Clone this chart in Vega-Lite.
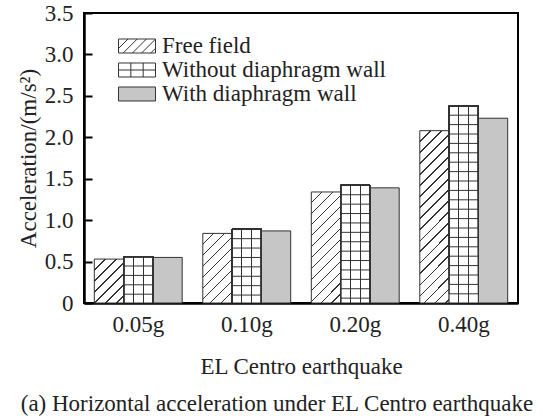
{
  "$schema": "https://vega.github.io/schema/vega-lite/v6.json",
  "width": 434,
  "height": 290,
  "autosize": {"type": "none"},
  "padding": {"left": 84, "top": 13, "right": 25, "bottom": 113},
  "background": "white",
  "config": {
    "font": "Liberation Serif",
    "view": {"stroke": "black", "strokeWidth": 2},
    "axis": {"labelFont": "Liberation Serif", "titleFont": "Liberation Serif"},
    "legend": {"labelFont": "Liberation Serif", "titleFont": "Liberation Serif"},
    "title": {"font": "Liberation Serif"}
  },
  "title": {"text": "(a) Horizontal acceleration under EL Centro earthquake", "orient": "bottom", "anchor": "middle", "font": "Liberation Serif", "fontSize": 23, "fontWeight": "normal", "color": "#222", "offset": 15, "dx": -24},
  "data": {"values": [
    {"g": "0.05g", "series": "Free field", "value": 0.53},
    {"g": "0.05g", "series": "Without diaphragm wall", "value": 0.56},
    {"g": "0.05g", "series": "With diaphragm wall", "value": 0.55},
    {"g": "0.10g", "series": "Free field", "value": 0.84},
    {"g": "0.10g", "series": "Without diaphragm wall", "value": 0.89},
    {"g": "0.10g", "series": "With diaphragm wall", "value": 0.87},
    {"g": "0.20g", "series": "Free field", "value": 1.34},
    {"g": "0.20g", "series": "Without diaphragm wall", "value": 1.42},
    {"g": "0.20g", "series": "With diaphragm wall", "value": 1.39},
    {"g": "0.40g", "series": "Free field", "value": 2.08},
    {"g": "0.40g", "series": "Without diaphragm wall", "value": 2.38},
    {"g": "0.40g", "series": "With diaphragm wall", "value": 2.23}
  ]},
  "encoding": {
    "x": {"field": "g", "type": "nominal", "sort": ["0.05g", "0.10g", "0.20g", "0.40g"],
      "scale": {"paddingInner": 0.19, "paddingOuter": 0.095},
      "axis": {"title": "EL Centro earthquake", "ticks": false, "labelAngle": 0, "labelPadding": 10, "titlePadding": 19,
        "domainColor": "black", "domainWidth": 2.5,
        "labelFont": "Liberation Serif", "labelFontSize": 23, "labelColor": "#222",
        "titleFont": "Liberation Serif", "titleFontSize": 23, "titleFontWeight": "normal", "titleColor": "#222"}},
    "xOffset": {"field": "series", "type": "nominal",
      "scale": {"domain": ["Free field", "Without diaphragm wall", "With diaphragm wall"], "paddingInner": 0, "paddingOuter": 0}},
    "y": {"field": "value", "type": "quantitative",
      "scale": {"domain": [0, 3.5], "nice": false},
      "axis": {"values": [0, 0.5, 1, 1.5, 2, 2.5, 3, 3.5], "labelExpr": "datum.value == 0 ? '0' : format(datum.value, '.1f')",
        "title": "Acceleration/(m/s²)    ", "grid": false, "tickSize": -8, "tickColor": "black", "tickWidth": 2, "labelPadding": 19, "titlePadding": 4,
        "domainColor": "black", "domainWidth": 2.5,
        "labelFont": "Liberation Serif", "labelFontSize": 23, "labelColor": "#222",
        "titleFont": "Liberation Serif", "titleFontSize": 23, "titleFontWeight": "normal", "titleColor": "#222"}}
  },
  "layer": [
    {
      "mark": {"type": "bar", "stroke": "#333", "strokeWidth": 1},
      "encoding": {
        "fill": {
          "field": "series", "type": "nominal",
          "scale": {"domain": ["Free field", "Without diaphragm wall", "With diaphragm wall"], "range": ["#ffffff", "#ffffff", "#c6c6c6"]},
          "legend": {
            "orient": "none", "legendX": 41, "legendY": 21, "title": null, "padding": 0, "rowPadding": 0,
            "symbolSize": 529, "symbolStrokeColor": "#333", "symbolStrokeWidth": 1, "labelOffset": 13,
            "labelFont": "Liberation Serif", "labelFontSize": 23, "labelColor": "#222", "labelLimit": 400,
            "encode": {"symbols": {"update": {
              "shape": [
                {"test": "datum.value === 'Free field'", "value": "M-1.609,-0.609H1.609V0.609H-1.609ZM-1.609,0.218L-0.782,-0.609M-1.2,0.609L0.018,-0.609M-0.4,0.609L0.818,-0.609M0.4,0.609L1.609,-0.6M1.2,0.609L1.609,0.2"},
                {"test": "datum.value === 'Without diaphragm wall'", "value": "M-1.609,-0.609H1.609V0.609H-1.609ZM-0.536,-0.609V0.609M0.536,-0.609V0.609M-1.609,0H1.609"},
                {"value": "M-1.609,-0.609H1.609V0.609H-1.609Z"}
              ],
              "stroke": {"value": "#333"},
              "strokeWidth": {"value": 1}
            }}}
          },
          "condition": [
            {"test": "datum.series === 'Free field' && datum.g === '0.05g'", "value": {"gradient": "linear", "x1": 0, "y1": 0, "x2": 0.772, "y2": 1.153, "stops": [
              {"offset": 0.14, "color": "#fff"}, {"offset": 0.14, "color": "#333"}, {"offset": 0.16, "color": "#333"}, {"offset": 0.16, "color": "#fff"},
              {"offset": 0.29, "color": "#fff"}, {"offset": 0.29, "color": "#333"}, {"offset": 0.31, "color": "#333"}, {"offset": 0.31, "color": "#fff"},
              {"offset": 0.44, "color": "#fff"}, {"offset": 0.44, "color": "#333"}, {"offset": 0.46, "color": "#333"}, {"offset": 0.46, "color": "#fff"},
              {"offset": 0.59, "color": "#fff"}, {"offset": 0.59, "color": "#333"}, {"offset": 0.61, "color": "#333"}, {"offset": 0.61, "color": "#fff"},
              {"offset": 0.74, "color": "#fff"}, {"offset": 0.74, "color": "#333"}, {"offset": 0.76, "color": "#333"}, {"offset": 0.76, "color": "#fff"},
              {"offset": 0.89, "color": "#fff"}, {"offset": 0.89, "color": "#333"}, {"offset": 0.91, "color": "#333"}, {"offset": 0.91, "color": "#fff"}
            ]}},
            {"test": "datum.series === 'Free field' && datum.g === '0.10g'", "value": {"gradient": "linear", "x1": 0, "y1": 0, "x2": 0.51, "y2": 1.207, "stops": [
              {"offset": 0.104, "color": "#fff"}, {"offset": 0.104, "color": "#333"}, {"offset": 0.118, "color": "#333"}, {"offset": 0.118, "color": "#fff"},
              {"offset": 0.215, "color": "#fff"}, {"offset": 0.215, "color": "#333"}, {"offset": 0.229, "color": "#333"}, {"offset": 0.229, "color": "#fff"},
              {"offset": 0.326, "color": "#fff"}, {"offset": 0.326, "color": "#333"}, {"offset": 0.34, "color": "#333"}, {"offset": 0.34, "color": "#fff"},
              {"offset": 0.437, "color": "#fff"}, {"offset": 0.437, "color": "#333"}, {"offset": 0.451, "color": "#333"}, {"offset": 0.451, "color": "#fff"},
              {"offset": 0.549, "color": "#fff"}, {"offset": 0.549, "color": "#333"}, {"offset": 0.563, "color": "#333"}, {"offset": 0.563, "color": "#fff"},
              {"offset": 0.66, "color": "#fff"}, {"offset": 0.66, "color": "#333"}, {"offset": 0.674, "color": "#333"}, {"offset": 0.674, "color": "#fff"},
              {"offset": 0.771, "color": "#fff"}, {"offset": 0.771, "color": "#333"}, {"offset": 0.785, "color": "#333"}, {"offset": 0.785, "color": "#fff"},
              {"offset": 0.882, "color": "#fff"}, {"offset": 0.882, "color": "#333"}, {"offset": 0.896, "color": "#333"}, {"offset": 0.896, "color": "#fff"}
            ]}},
            {"test": "datum.series === 'Free field' && datum.g === '0.20g'", "value": {"gradient": "linear", "x1": 0, "y1": 0, "x2": 0.313, "y2": 1.182, "stops": [
              {"offset": 0.073, "color": "#fff"}, {"offset": 0.073, "color": "#333"}, {"offset": 0.083, "color": "#333"}, {"offset": 0.083, "color": "#fff"},
              {"offset": 0.151, "color": "#fff"}, {"offset": 0.151, "color": "#333"}, {"offset": 0.161, "color": "#333"}, {"offset": 0.161, "color": "#fff"},
              {"offset": 0.229, "color": "#fff"}, {"offset": 0.229, "color": "#333"}, {"offset": 0.239, "color": "#333"}, {"offset": 0.239, "color": "#fff"},
              {"offset": 0.307, "color": "#fff"}, {"offset": 0.307, "color": "#333"}, {"offset": 0.317, "color": "#333"}, {"offset": 0.317, "color": "#fff"},
              {"offset": 0.385, "color": "#fff"}, {"offset": 0.385, "color": "#333"}, {"offset": 0.395, "color": "#333"}, {"offset": 0.395, "color": "#fff"},
              {"offset": 0.463, "color": "#fff"}, {"offset": 0.463, "color": "#333"}, {"offset": 0.473, "color": "#333"}, {"offset": 0.473, "color": "#fff"},
              {"offset": 0.541, "color": "#fff"}, {"offset": 0.541, "color": "#333"}, {"offset": 0.551, "color": "#333"}, {"offset": 0.551, "color": "#fff"},
              {"offset": 0.619, "color": "#fff"}, {"offset": 0.619, "color": "#333"}, {"offset": 0.629, "color": "#333"}, {"offset": 0.629, "color": "#fff"},
              {"offset": 0.697, "color": "#fff"}, {"offset": 0.697, "color": "#333"}, {"offset": 0.707, "color": "#333"}, {"offset": 0.707, "color": "#fff"},
              {"offset": 0.775, "color": "#fff"}, {"offset": 0.775, "color": "#333"}, {"offset": 0.785, "color": "#333"}, {"offset": 0.785, "color": "#fff"},
              {"offset": 0.853, "color": "#fff"}, {"offset": 0.853, "color": "#333"}, {"offset": 0.863, "color": "#333"}, {"offset": 0.863, "color": "#fff"},
              {"offset": 0.931, "color": "#fff"}, {"offset": 0.931, "color": "#333"}, {"offset": 0.941, "color": "#333"}, {"offset": 0.941, "color": "#fff"}
            ]}},
            {"test": "datum.series === 'Free field' && datum.g === '0.40g'", "value": {"gradient": "linear", "x1": 0, "y1": 0, "x2": 0.194, "y2": 1.138, "stops": [
              {"offset": 0.051, "color": "#fff"}, {"offset": 0.051, "color": "#333"}, {"offset": 0.058, "color": "#333"}, {"offset": 0.058, "color": "#fff"},
              {"offset": 0.106, "color": "#fff"}, {"offset": 0.106, "color": "#333"}, {"offset": 0.113, "color": "#333"}, {"offset": 0.113, "color": "#fff"},
              {"offset": 0.16, "color": "#fff"}, {"offset": 0.16, "color": "#333"}, {"offset": 0.167, "color": "#333"}, {"offset": 0.167, "color": "#fff"},
              {"offset": 0.215, "color": "#fff"}, {"offset": 0.215, "color": "#333"}, {"offset": 0.222, "color": "#333"}, {"offset": 0.222, "color": "#fff"},
              {"offset": 0.27, "color": "#fff"}, {"offset": 0.27, "color": "#333"}, {"offset": 0.277, "color": "#333"}, {"offset": 0.277, "color": "#fff"},
              {"offset": 0.324, "color": "#fff"}, {"offset": 0.324, "color": "#333"}, {"offset": 0.331, "color": "#333"}, {"offset": 0.331, "color": "#fff"},
              {"offset": 0.379, "color": "#fff"}, {"offset": 0.379, "color": "#333"}, {"offset": 0.386, "color": "#333"}, {"offset": 0.386, "color": "#fff"},
              {"offset": 0.433, "color": "#fff"}, {"offset": 0.433, "color": "#333"}, {"offset": 0.44, "color": "#333"}, {"offset": 0.44, "color": "#fff"},
              {"offset": 0.488, "color": "#fff"}, {"offset": 0.488, "color": "#333"}, {"offset": 0.495, "color": "#333"}, {"offset": 0.495, "color": "#fff"},
              {"offset": 0.543, "color": "#fff"}, {"offset": 0.543, "color": "#333"}, {"offset": 0.55, "color": "#333"}, {"offset": 0.55, "color": "#fff"},
              {"offset": 0.597, "color": "#fff"}, {"offset": 0.597, "color": "#333"}, {"offset": 0.604, "color": "#333"}, {"offset": 0.604, "color": "#fff"},
              {"offset": 0.652, "color": "#fff"}, {"offset": 0.652, "color": "#333"}, {"offset": 0.659, "color": "#333"}, {"offset": 0.659, "color": "#fff"},
              {"offset": 0.706, "color": "#fff"}, {"offset": 0.706, "color": "#333"}, {"offset": 0.713, "color": "#333"}, {"offset": 0.713, "color": "#fff"},
              {"offset": 0.761, "color": "#fff"}, {"offset": 0.761, "color": "#333"}, {"offset": 0.768, "color": "#333"}, {"offset": 0.768, "color": "#fff"},
              {"offset": 0.816, "color": "#fff"}, {"offset": 0.816, "color": "#333"}, {"offset": 0.823, "color": "#333"}, {"offset": 0.823, "color": "#fff"},
              {"offset": 0.87, "color": "#fff"}, {"offset": 0.87, "color": "#333"}, {"offset": 0.877, "color": "#333"}, {"offset": 0.877, "color": "#fff"},
              {"offset": 0.925, "color": "#fff"}, {"offset": 0.925, "color": "#333"}, {"offset": 0.932, "color": "#333"}, {"offset": 0.932, "color": "#fff"},
              {"offset": 0.979, "color": "#fff"}, {"offset": 0.979, "color": "#333"}, {"offset": 0.986, "color": "#333"}, {"offset": 0.986, "color": "#fff"}
            ]}}
          ]
        }
      }
    },
    {
      "transform": [{"filter": "datum.series === 'Without diaphragm wall'"}],
      "mark": {"type": "bar", "fill": {"gradient": "linear", "x1": 0, "y1": 0, "x2": 1, "y2": 0, "stops": [
        {"offset": 0.313, "color": "rgba(255,255,255,0)"}, {"offset": 0.313, "color": "#333"}, {"offset": 0.353, "color": "#333"}, {"offset": 0.353, "color": "rgba(255,255,255,0)"},
        {"offset": 0.647, "color": "rgba(255,255,255,0)"}, {"offset": 0.647, "color": "#333"}, {"offset": 0.687, "color": "#333"}, {"offset": 0.687, "color": "rgba(255,255,255,0)"}
      ]}}
    },
    {
      "transform": [{"filter": "datum.series === 'Without diaphragm wall'"}],
      "encoding": {"y2": {"field": "value"}},
      "layer": [
        {"mark": {"type": "bar", "yOffset": 9.4, "clip": true, "fill": "transparent", "stroke": "#333", "strokeWidth": 1}},
        {"mark": {"type": "bar", "yOffset": 18.8, "clip": true, "fill": "transparent", "stroke": "#333", "strokeWidth": 1}},
        {"mark": {"type": "bar", "yOffset": 28.2, "clip": true, "fill": "transparent", "stroke": "#333", "strokeWidth": 1}},
        {"mark": {"type": "bar", "yOffset": 37.6, "clip": true, "fill": "transparent", "stroke": "#333", "strokeWidth": 1}},
        {"mark": {"type": "bar", "yOffset": 47, "clip": true, "fill": "transparent", "stroke": "#333", "strokeWidth": 1}},
        {"mark": {"type": "bar", "yOffset": 56.4, "clip": true, "fill": "transparent", "stroke": "#333", "strokeWidth": 1}},
        {"mark": {"type": "bar", "yOffset": 65.8, "clip": true, "fill": "transparent", "stroke": "#333", "strokeWidth": 1}},
        {"mark": {"type": "bar", "yOffset": 75.2, "clip": true, "fill": "transparent", "stroke": "#333", "strokeWidth": 1}},
        {"mark": {"type": "bar", "yOffset": 84.6, "clip": true, "fill": "transparent", "stroke": "#333", "strokeWidth": 1}},
        {"mark": {"type": "bar", "yOffset": 94, "clip": true, "fill": "transparent", "stroke": "#333", "strokeWidth": 1}},
        {"mark": {"type": "bar", "yOffset": 103.4, "clip": true, "fill": "transparent", "stroke": "#333", "strokeWidth": 1}},
        {"mark": {"type": "bar", "yOffset": 112.8, "clip": true, "fill": "transparent", "stroke": "#333", "strokeWidth": 1}},
        {"mark": {"type": "bar", "yOffset": 122.2, "clip": true, "fill": "transparent", "stroke": "#333", "strokeWidth": 1}},
        {"mark": {"type": "bar", "yOffset": 131.6, "clip": true, "fill": "transparent", "stroke": "#333", "strokeWidth": 1}},
        {"mark": {"type": "bar", "yOffset": 141, "clip": true, "fill": "transparent", "stroke": "#333", "strokeWidth": 1}},
        {"mark": {"type": "bar", "yOffset": 150.4, "clip": true, "fill": "transparent", "stroke": "#333", "strokeWidth": 1}},
        {"mark": {"type": "bar", "yOffset": 159.8, "clip": true, "fill": "transparent", "stroke": "#333", "strokeWidth": 1}},
        {"mark": {"type": "bar", "yOffset": 169.2, "clip": true, "fill": "transparent", "stroke": "#333", "strokeWidth": 1}},
        {"mark": {"type": "bar", "yOffset": 178.6, "clip": true, "fill": "transparent", "stroke": "#333", "strokeWidth": 1}},
        {"mark": {"type": "bar", "yOffset": 188, "clip": true, "fill": "transparent", "stroke": "#333", "strokeWidth": 1}}
      ]
    }
  ]
}
